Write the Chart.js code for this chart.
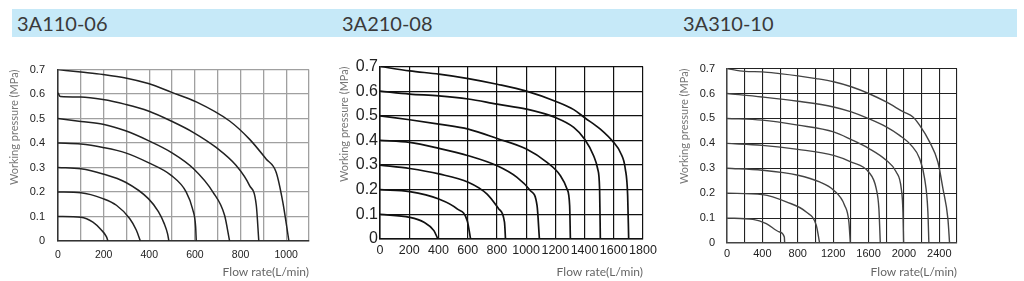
<!DOCTYPE html>
<html>
<head>
<meta charset="utf-8">
<script src="https://cdn.jsdelivr.net/npm/chart.js@4"></script>
<style>
  body { margin: 0; background: #fff; width: 1024px; height: 281px; overflow: hidden; position: relative; font-family: Lato, sans-serif; }
  .band { position: absolute; left: 12px; top: 9px; width: 1005px; height: 28px; background: #c6e9f8; }
  .ttl { position: absolute; top: 11px; font-size: 20px; line-height: 24px; color: #3a3a3a; }
  canvas { position: absolute; }
</style>
</head>
<body>
<div class="band"></div>
<div class="ttl" style="left:17px">3A110-06</div>
<div class="ttl" style="left:342px">3A210-08</div>
<div class="ttl" style="left:683px">3A310-10</div>
<canvas id="c1"></canvas>
<canvas id="c2"></canvas>
<canvas id="c3"></canvas>
<script>
// pressure labels on the y axis (MPa)
const yLabels = [0, 0.1, 0.2, 0.3, 0.4, 0.5, 0.6, 0.7];

// 3A110-06 : one curve per supply pressure 0.1 ... 0.7
const xLabels110 = [0, 200, 400, 600, 800, 1000];
const flow110 = [
  [0, 100, 153, 190, 212, 219],
  [0, 100, 197, 256, 314, 343, 361],
  [0, 100, 197, 296, 396, 440, 466, 480, 486],
  [0, 100, 197, 296, 396, 496, 562, 590, 603, 606],
  [0, 100, 197, 296, 396, 496, 594, 679, 730, 752],
  [0, 10, 100, 197, 296, 396, 496, 594, 693, 781, 839, 869, 880],
  [0, 100, 197, 296, 396, 496, 606, 752, 839, 912, 956, 985, 1012]
];
const press110 = [
  [0.1, 0.097, 0.077, 0.045, 0.018, 0],
  [0.2, 0.197, 0.173, 0.146, 0.092, 0.045, 0],
  [0.3, 0.295, 0.274, 0.24, 0.173, 0.12, 0.07, 0.03, 0],
  [0.4, 0.396, 0.382, 0.36, 0.32, 0.268, 0.2, 0.13, 0.06, 0],
  [0.5, 0.488, 0.477, 0.45, 0.41, 0.362, 0.295, 0.2, 0.105, 0],
  [0.605, 0.59, 0.588, 0.578, 0.558, 0.531, 0.49, 0.443, 0.382, 0.308, 0.227, 0.146, 0],
  [0.7, 0.69, 0.68, 0.666, 0.643, 0.608, 0.568, 0.49, 0.416, 0.335, 0.281, 0.16, 0]
];

// 3A210-08
const xLabels210 = [0, 200, 400, 600, 800, 1000, 1200, 1400, 1600, 1800];
const flow210 = [
  [0, 203, 301, 369, 396],
  [0, 203, 403, 528, 597, 620],
  [0, 203, 403, 604, 733, 813, 852, 859],
  [0, 203, 403, 604, 802, 938, 1030, 1075, 1091],
  [0, 203, 403, 604, 802, 1002, 1143, 1235, 1280, 1298, 1303],
  [0, 203, 403, 604, 802, 1002, 1200, 1326, 1401, 1462, 1490, 1503, 1508],
  [0, 203, 403, 604, 802, 1002, 1200, 1326, 1401, 1508, 1599, 1645, 1679, 1695, 1702]
];
const press210 = [
  [0.1, 0.088, 0.068, 0.034, 0],
  [0.2, 0.192, 0.162, 0.122, 0.074, 0],
  [0.3, 0.286, 0.264, 0.23, 0.182, 0.122, 0.068, 0],
  [0.4, 0.392, 0.368, 0.338, 0.297, 0.25, 0.196, 0.135, 0],
  [0.5, 0.484, 0.466, 0.446, 0.408, 0.365, 0.311, 0.257, 0.203, 0.135, 0],
  [0.6, 0.588, 0.581, 0.568, 0.547, 0.527, 0.493, 0.453, 0.405, 0.338, 0.284, 0.203, 0],
  [0.7, 0.682, 0.669, 0.651, 0.628, 0.6, 0.559, 0.525, 0.492, 0.446, 0.392, 0.351, 0.284, 0.176, 0]
];

// 3A310-10
const xLabels310 = [0, 400, 800, 1200, 1600, 2000, 2400];
const flow310 = [
  [0, 294, 444, 595, 648, 652],
  [0, 399, 670, 896, 1009, 1047],
  [0, 399, 802, 1047, 1205, 1330, 1378, 1394],
  [0, 399, 802, 1205, 1405, 1601, 1687, 1717, 1733],
  [0, 399, 802, 1205, 1405, 1601, 1800, 1913, 1970, 1989, 1996],
  [0, 399, 802, 1205, 1405, 1601, 1800, 1951, 2083, 2177, 2234, 2271, 2282],
  [0, 200, 399, 595, 802, 1009, 1205, 1405, 1601, 1800, 1996, 2102, 2177, 2290, 2384, 2441, 2497, 2516]
];
const press310 = [
  [0.1, 0.095, 0.078, 0.044, 0.024, 0],
  [0.2, 0.194, 0.165, 0.124, 0.071, 0],
  [0.3, 0.292, 0.272, 0.245, 0.212, 0.151, 0.084, 0],
  [0.4, 0.392, 0.376, 0.352, 0.325, 0.285, 0.218, 0.138, 0],
  [0.5, 0.493, 0.473, 0.446, 0.415, 0.38, 0.332, 0.285, 0.218, 0.124, 0],
  [0.6, 0.586, 0.569, 0.546, 0.526, 0.499, 0.466, 0.432, 0.392, 0.339, 0.258, 0.124, 0],
  [0.7, 0.689, 0.687, 0.68, 0.671, 0.66, 0.647, 0.627, 0.6, 0.566, 0.526, 0.506, 0.473, 0.406, 0.325, 0.218, 0.098, 0]
];

function makeChart(id, box, flows, presses, xMax, xStep, xLabels, look) {
  const cv = document.getElementById(id);
  const top = 50;
  const h = 281 - top;
  const w = box.r + 20 - box.x0;
  cv.width = w;
  cv.height = h;
  cv.style.left = box.x0 + 'px';
  cv.style.top = top + 'px';

  const datasets = flows.map((f, i) => ({
    data: f.map((x, j) => ({ x: x, y: presses[i][j] })),
    showLine: true,
    pointRadius: 0,
    borderColor: look.line,
    borderWidth: look.lineW,
    cubicInterpolationMode: 'monotone',
    fill: false
  }));

  new Chart(cv, {
    type: 'scatter',
    data: { datasets: datasets },
    options: {
      responsive: false,
      animation: false,
      events: [],
      layout: { padding: { top: box.t - top, right: 20, left: 0, bottom: 0 } },
      plugins: { legend: { display: false }, tooltip: { enabled: false } },
      scales: {
        x: {
          type: 'linear', min: 0, max: xMax,
          afterFit: s => { s.height = 281 - box.b; },
          ticks: {
            stepSize: xStep, autoSkip: false, maxRotation: 0, padding: look.xPad, color: '#222',
            font: { family: 'Liberation Sans', size: look.xFont },
            callback: v => xLabels.includes(v) ? String(v) : ''
          },
          grid: { color: look.grid, lineWidth: look.gridW, drawTicks: false },
          border: { color: look.border, width: look.borderW },
          title: {
            display: true, text: 'Flow rate(L/min)', align: 'end', color: '#666',
            font: { family: 'Lato', size: 12 }, padding: { top: 0, bottom: 2 }
          }
        },
        y: {
          min: 0, max: 0.7,
          afterFit: s => { s.width = box.l - box.x0; },
          ticks: {
            stepSize: 0.1, autoSkip: false, padding: look.yPad, color: '#222',
            font: { family: 'Liberation Sans', size: look.yFont },
            callback: v => yLabels.some(p => Math.abs(p - v) < 1e-6) ? (v === 0 ? '0' : v.toFixed(1)) : ''
          },
          grid: { color: look.grid, lineWidth: look.gridW, drawTicks: false },
          border: { color: look.border, width: look.borderW },
          title: {
            display: true, text: 'Working pressure (MPa)', align: 'end', color: '#777',
            font: { family: 'Lato', size: 11 }, padding: { top: 8, bottom: 0 }
          }
        }
      }
    }
  });
}

makeChart('c1', { x0: 0, l: 58, r: 309, t: 68.5, b: 241 }, flow110, press110, 1100, 100, xLabels110,
  { line: '#222', lineW: 1.5, grid: '#a0a0a0', gridW: 1.3, border: '#333', borderW: 1.5, xFont: 10.5, yFont: 11, xPad: 8, yPad: 13 });
makeChart('c2', { x0: 330, l: 380, r: 643.5, t: 66.5, b: 239 }, flow210, press210, 1800, 200, xLabels210,
  { line: '#111', lineW: 1.7, grid: '#111', gridW: 1.2, border: '#111', borderW: 1.5, xFont: 12.5, yFont: 16, xPad: 4, yPad: 2 });
makeChart('c3', { x0: 670, l: 727, r: 957, t: 68.5, b: 243 }, flow310, press310, 2600, 200, xLabels310,
  { line: '#444', lineW: 1.4, grid: '#222', gridW: 1.1, border: '#444', borderW: 1.5, xFont: 11, yFont: 11, xPad: 4, yPad: 12 });
</script>
</body>
</html>
